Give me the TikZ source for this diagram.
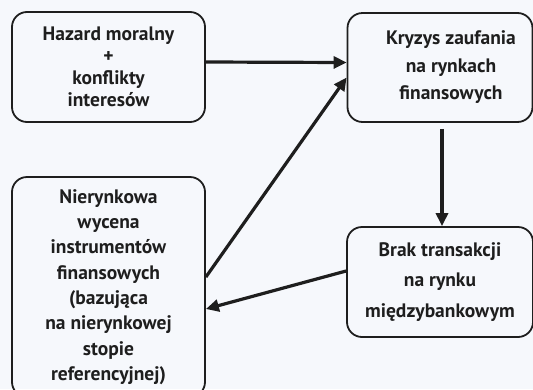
\documentclass[tikz,border=0pt]{standalone}
\usepackage{fontspec}
\setmainfont{PT Sans}
\usetikzlibrary{arrows.meta}
\definecolor{bgc}{HTML}{F6F8FC}
\definecolor{ink}{HTML}{1E1E1E}
\begin{document}
\begin{tikzpicture}[x=1pt,y=-1pt,
  box/.style={draw=ink,line width=1.8pt,rounded corners=15pt,inner sep=0pt,align=center,
    font=\fontsize{19.5}{22}\selectfont\bfseries,text=ink},
  conn/.style={draw=ink,line width=3.2pt,-{Triangle[length=13pt,width=12pt]}}]
\fill[bgc] (0,0) rectangle (533,389);
\useasboundingbox (0,0) rectangle (533,389);
\begin{scope}
\clip (0,0) rectangle (533,389);
\node[box,minimum width=193pt,minimum height=110pt] (A) at (108.5,67) {Hazard moralny\\+\\konflikty\\interesów};
\node[box,minimum width=185pt,minimum height=109pt,font=\fontsize{19.5}{27.5}\selectfont\bfseries] (B) at (440,67.5) {\hspace{22pt}Kryzys zaufania\\\hspace{22pt}na rynkach\\\hspace{22pt}finansowych};
\node[box,minimum width=193pt,minimum height=220pt,font=\fontsize{19.5}{25.3}\selectfont\bfseries] (C) at (108.5,287) {Nierynkowa\\wycena\\instrumentów\\finansowych\\(bazująca\\na nierynkowej\\stopie\\referencyjnej)};
\node[box,minimum width=186pt,minimum height=110pt,font=\fontsize{19.5}{30.5}\selectfont\bfseries] (D) at (440,282) {Brak transakcji\\na rynku\\międzybankowym};
\draw[conn] ([yshift=5pt]A.east) -- ([yshift=5pt]B.west);
\draw[conn] ([yshift=-6pt,xshift=2pt]B.south) -- ([xshift=2pt]D.north);
\draw[conn] ([yshift=10pt]C.east) -- ([yshift=-10pt]B.west);
\draw[conn] ([yshift=11pt]D.west) -- ([yshift=-22pt]C.east);
\end{scope}
\end{tikzpicture}
\end{document}
